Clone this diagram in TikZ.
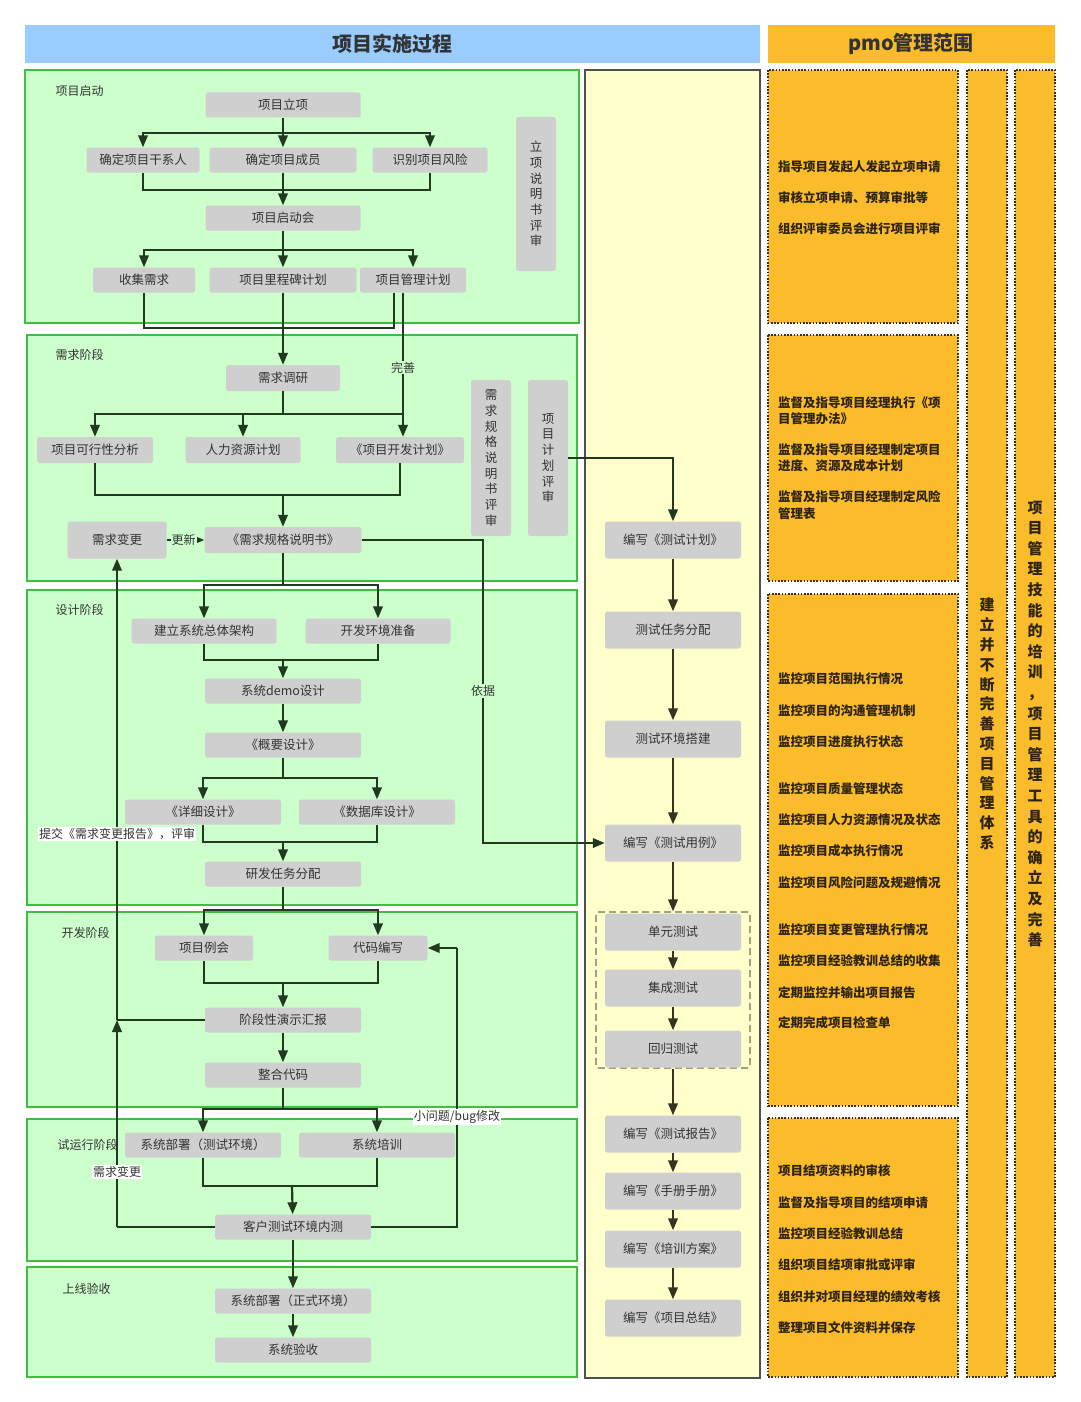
\documentclass[tikz,border=0pt]{standalone}
\usepackage{fontspec}
\setmainfont{Noto Sans CJK SC}
\usetikzlibrary{arrows.meta}
\definecolor{hblue}{HTML}{99CCFF}
\definecolor{pmo}{HTML}{FBBC2C}
\definecolor{pmodot}{HTML}{3A3020}
\definecolor{pmotext}{HTML}{2E2410}
\definecolor{phasefill}{HTML}{CCFFCC}
\definecolor{phaseline}{HTML}{3FBF3F}
\definecolor{testfill}{HTML}{FFFFCC}
\definecolor{testline}{HTML}{505050}
\definecolor{nodegray}{HTML}{CFCFCF}
\definecolor{txtdark}{HTML}{333333}
\definecolor{lnk}{HTML}{203A20}
\definecolor{tlnk}{HTML}{33331F}
\definecolor{dashgray}{HTML}{707060}
\newcommand\myfs[2]{\fontsize{#1}{#2}\selectfont}
\tikzset{
  gbox/.style={fill=nodegray, rounded corners=2.5pt, inner sep=0pt, minimum height=25pt, text=txtdark, font=\myfs{12.5}{15}},
  tbox/.style={gbox, minimum width=136pt, minimum height=37pt},
  vbox/.style={fill=nodegray, rounded corners=2.5pt, inner sep=0pt, minimum width=40pt, align=center, text=txtdark, font=\myfs{12.5}{15.7}},
  phasebox/.style={fill=phasefill, draw=phaseline, line width=1.8pt},
  conn/.style={draw=lnk, line width=2.2pt},
  arr/.style={conn, -{Triangle[length=12pt,width=9.5pt]}},
  tconn/.style={draw=tlnk, line width=2.2pt},
  tarr/.style={tconn, -{Triangle[length=12pt,width=9.5pt]}},
  lbl/.style={fill=white, inner sep=1pt, text=txtdark, font=\myfs{12}{14}},
  glbl/.style={lbl, fill=phasefill},
  phlbl/.style={anchor=west, text=txtdark, font=\myfs{12}{14}},
  pmobox/.style={fill=pmo, draw=pmodot, line width=1.6pt, dash pattern=on 1.6pt off 1.6pt},
  pmotxt/.style={anchor=west, inner sep=0pt, text=pmotext, font=\bfseries\myfs{12.5}{16.5}, align=left},
  pmovert/.style={text=pmotext, align=center, inner sep=0pt},
}
\begin{document}
\begin{tikzpicture}[x=1pt,y=-1pt]
\useasboundingbox (0,0) rectangle (1080,1402);
\fill[white] (0,0) rectangle (1080,1402);
% headers
\fill[hblue] (25,25) rectangle (760,63);
\fill[pmo] (768,25) rectangle (1055,63);
\node[text=txtdark, font=\bfseries\myfs{20}{24}] (title1) at (392,44) {项目实施过程};
\node[text=txtdark, font=\bfseries\myfs{20}{24}] (title2) at (911,44) {pmo管理范围};
% phase boxes
\draw[phasebox] (25,70) rectangle (579,323);
\draw[phasebox] (27,335) rectangle (577,581);
\draw[phasebox] (27,590) rectangle (577,905);
\draw[phasebox] (27,912) rectangle (577,1107);
\draw[phasebox] (27,1119) rectangle (577,1261);
\draw[phasebox] (27,1267) rectangle (577,1377);
% test column
\draw[fill=testfill, draw=testline, line width=1.5pt] (585,70) rectangle (760,1378);
% pmo boxes
\draw[pmobox] (768,70) rectangle (958,323);
\draw[pmobox] (768,335) rectangle (958,581);
\draw[pmobox] (768,594) rectangle (958,1106);
\draw[pmobox] (768,1118) rectangle (958,1377);
\draw[pmobox] (967,70) rectangle (1007,1377);
\draw[pmobox] (1015,70) rectangle (1055,1377);
% phase labels
\node[phlbl] (ph1) at (52,91) {项目启动};
\node[phlbl] (ph2) at (52,355) {需求阶段};
\node[phlbl] (ph3) at (52,610) {设计阶段};
\node[phlbl] (ph4) at (58,933) {开发阶段};
\node[phlbl] (ph5) at (54,1145) {试运行阶段};
\node[phlbl] (ph6) at (59,1289) {上线验收};
% phase 1 nodes
\node[gbox, minimum width=155pt] (n11) at (283,105) {项目立项};
\node[gbox, minimum width=113pt] (n12a) at (143,160) {确定项目干系人};
\node[gbox, minimum width=147pt] (n12b) at (283,160) {确定项目成员};
\node[gbox, minimum width=115pt] (n12c) at (430,160) {识别项目风险};
\node[gbox, minimum width=155pt] (n13) at (283,218) {项目启动会};
\node[gbox, minimum width=102pt] (n14a) at (144,280) {收集需求};
\node[gbox, minimum width=147pt] (n14b) at (283,280) {项目里程碑计划};
\node[gbox, minimum width=106pt] (n14c) at (413,280) {项目管理计划};
\node[vbox, minimum height=154pt] (v1) at (536,194) {立\\项\\说\\明\\书\\评\\审};
% phase 2 nodes
\node[gbox, minimum width=114pt, minimum height=26pt] (n21) at (283,378) {需求调研};
\node[gbox, minimum width=116pt, minimum height=26pt] (n22a) at (95,450) {项目可行性分析};
\node[gbox, minimum width=115pt, minimum height=26pt] (n22b) at (243,450) {人力资源计划};
\node[gbox, minimum width=128pt, minimum height=26pt] (n22c) at (400,450) {《项目开发计划》};
\node[gbox, minimum width=157pt, minimum height=26pt] (n23) at (283,540) {《需求规格说明书》};
\node[gbox, minimum width=99pt, minimum height=37pt] (n24) at (117,540) {需求变更};
\node[vbox, minimum height=156pt] (v2) at (491,458) {需\\求\\规\\格\\说\\明\\书\\评\\审};
\node[vbox, minimum height=156pt] (v3) at (548,458) {项\\目\\计\\划\\评\\审};
% phase 3 nodes
\node[gbox, minimum width=145pt] (n31a) at (204,631) {建立系统总体架构};
\node[gbox, minimum width=145pt] (n31b) at (378,631) {开发环境准备};
\node[gbox, minimum width=156pt] (n32) at (283,691) {系统demo设计};
\node[gbox, minimum width=156pt] (n33) at (283,745) {《概要设计》};
\node[gbox, minimum width=156pt] (n34a) at (203,812) {《详细设计》};
\node[gbox, minimum width=156pt] (n34b) at (377,812) {《数据库设计》};
\node[gbox, minimum width=156pt] (n35) at (283,874) {研发任务分配};
% phase 4 nodes
\node[gbox, minimum width=98pt] (n41a) at (204,948) {项目例会};
\node[gbox, minimum width=99pt] (n41b) at (378,948) {代码编写};
\node[gbox, minimum width=156pt] (n42) at (283,1020) {阶段性演示汇报};
\node[gbox, minimum width=156pt] (n43) at (283,1075) {整合代码};
% phase 5 nodes
\node[gbox, minimum width=156pt] (n51a) at (203,1145) {系统部署（测试环境）};
\node[gbox, minimum width=156pt] (n51b) at (377,1145) {系统培训};
\node[gbox, minimum width=156pt] (n52) at (293,1227) {客户测试环境内测};
% phase 6 nodes
\node[gbox, minimum width=156pt] (n61) at (293,1301) {系统部署（正式环境）};
\node[gbox, minimum width=156pt] (n62) at (293,1350) {系统验收};
% test column nodes
\node[draw=dashgray, line width=1.3pt, dash pattern=on 7pt off 4pt, rounded corners=2pt, minimum width=154pt, minimum height=156pt, inner sep=0pt] (dbox) at (673,990) {};
\node[tbox] (t1) at (673,540) {编写《测试计划》};
\node[tbox] (t2) at (673,630) {测试任务分配};
\node[tbox] (t3) at (673,739) {测试环境搭建};
\node[tbox] (t4) at (673,843) {编写《测试用例》};
\node[tbox] (t5) at (673,932) {单元测试};
\node[tbox] (t6) at (673,988) {集成测试};
\node[tbox] (t7) at (673,1049) {回归测试};
\node[tbox] (t8) at (673,1134) {编写《测试报告》};
\node[tbox] (t9) at (673,1191) {编写《手册手册》};
\node[tbox] (t10) at (673,1249) {编写《培训方案》};
\node[tbox] (t11) at (673,1318) {编写《项目总结》};
% junction coordinates
\coordinate (f1) at (283,133);
\coordinate (j1) at (283,190);
\coordinate (f1b) at (283,250);
\coordinate (j1c) at (394,328);
\coordinate (f2) at (283,414);
\coordinate (k2) at (403,414);
\coordinate (j2) at (283,495);
\coordinate (f3) at (283,585);
\coordinate (j3) at (283,660);
\coordinate (f3b) at (283,778);
\coordinate (j3b) at (283,842);
\coordinate (f4) at (283,910);
\coordinate (j4) at (283,983);
\coordinate (f5) at (283,1109);
\coordinate (j5) at (292,1186);
\coordinate (yj) at (483,843);
\coordinate (rc1) at (117,1227);
\coordinate (rc2) at (117,1020);
\coordinate (bc1) at (457,1227);
\coordinate (bc2) at (457,948);
% phase 1 connectors
\draw[conn] (n11) -- (f1);
\draw[arr] (f1) -| (n12a);
\draw[arr] (f1) -- (n12b);
\draw[arr] (f1) -| (n12c);
\draw[conn] (n12a) |- (j1);
\draw[conn] (n12c) |- (j1);
\draw[arr] (n12b) -- (n13);
\draw[conn] (n13) -- (f1b);
\draw[arr] (f1b) -| (n14a);
\draw[arr] (f1b) -- (n14b);
\draw[arr] (f1b) -| (n14c);
\draw[conn] (n14a) |- (j1c) -- (n14c.south -| j1c);
% phase 2 connectors
\draw[arr] (n14b) -- (n21);
\draw[conn] (n21) -- (f2);
\draw[arr] (f2) -| (n22a);
\draw[arr] (f2) -| (n22b);
\draw[conn] (f2) -- (k2);
\draw[arr] (n14c.south -| k2) -- node[glbl, pos=0.52] (lws) {完善} (n22c.north -| k2);
\draw[conn] (n22a) |- (j2);
\draw[conn] (n22c) |- (j2);
\draw[arr] (j2) -- (n23);
\draw[arr] (n24) -- node[glbl, pos=0.45] (lgx) {更新} (n23);
\draw[arr] (v3) -| (t1);
\draw[arr] (n23) -| (yj) -- (t4);
\node[glbl] (lyj) at (483,691) {依据};
% phase 3 connectors
\draw[conn] (n23) -- (f3);
\draw[arr] (f3) -| (n31a);
\draw[arr] (f3) -| (n31b);
\draw[conn] (n31a) |- (j3);
\draw[conn] (n31b) |- (j3);
\draw[arr] (j3) -- (n32);
\draw[arr] (n32) -- (n33);
\draw[conn] (n33) -- (f3b);
\draw[arr] (f3b) -| (n34a);
\draw[arr] (f3b) -| (n34b);
\draw[conn] (n34a) |- (j3b);
\draw[conn] (n34b) |- (j3b);
\draw[arr] (j3b) -- (n35);
% phase 4 connectors
\draw[conn] (n35) -- (f4);
\draw[arr] (f4) -| (n41a);
\draw[arr] (f4) -| (n41b);
\draw[conn] (n41a) |- (j4);
\draw[conn] (n41b) |- (j4);
\draw[arr] (j4) -- (n42);
\draw[arr] (n42) -- (n43);
\draw[conn] (n43) -- (f5);
% phase 5 connectors
\draw[arr] (f5) -| (n51a);
\draw[arr] (f5) -| (n51b);
\draw[conn] (n51a) |- (j5);
\draw[conn] (n51b) |- (j5);
\draw[arr] (j5) -- (n52);
\draw[arr] (n52) -- (n61);
\draw[arr] (n61) -- (n62);
% feedback loops
\draw[conn] (n52) -- (rc1);
\draw[arr] (rc1) -- (rc2);
\draw[conn] (n42) -- (rc2);
\draw[arr] (rc2) -- (n24);
\draw[conn] (n52) -- (bc1) -- (bc2);
\draw[arr] (bc2) -- (n41b);
\node[lbl] (lreq) at (117,834) {提交《需求变更报告》，评审};
\node[lbl] (lchg) at (117,1172) {需求变更};
\node[lbl] (lbug) at (457,1117) {小问题/bug修改};
% test connectors
\draw[tarr] (t1) -- (t2);
\draw[tarr] (t2) -- (t3);
\draw[tarr] (t3) -- (t4);
\draw[tarr] (t4) -- (dbox);
\draw[tarr] (t5) -- (t6);
\draw[tarr] (t6) -- (t7);
\draw[tarr] (dbox) -- (t8);
\draw[tarr] (t8) -- (t9);
\draw[tarr] (t9) -- (t10);
\draw[tarr] (t10) -- (t11);
% pmo texts
\node[pmotxt] (p11) at (778,167) {指导项目发起人发起立项申请};
\node[pmotxt] (p12) at (778,198) {审核立项申请、预算审批等};
\node[pmotxt] (p13) at (778,229) {组织评审委员会进行项目评审};
\node[pmotxt] (p21) at (778,411) {监督及指导项目经理执行《项\\目管理办法》};
\node[pmotxt] (p22) at (778,458) {监督及指导项目经理制定项目\\进度、资源及成本计划};
\node[pmotxt] (p23) at (778,505) {监督及指导项目经理制定风险\\管理表};
\node[pmotxt] (p31) at (778,679) {监控项目范围执行情况};
\node[pmotxt] (p32) at (778,711) {监控项目的沟通管理机制};
\node[pmotxt] (p33) at (778,742) {监控项目进度执行状态};
\node[pmotxt] (p34) at (778,789) {监控项目质量管理状态};
\node[pmotxt] (p35) at (778,820) {监控项目人力资源情况及状态};
\node[pmotxt] (p36) at (778,851) {监控项目成本执行情况};
\node[pmotxt] (p37) at (778,883) {监控项目风险问题及规避情况};
\node[pmotxt] (p38) at (778,930) {监控项目变更管理执行情况};
\node[pmotxt] (p39) at (778,961) {监控项目经验教训总结的收集};
\node[pmotxt] (p310) at (778,993) {定期监控并输出项目报告};
\node[pmotxt] (p311) at (778,1023) {定期完成项目检查单};
\node[pmotxt] (p41) at (778,1171) {项目结项资料的审核};
\node[pmotxt] (p42) at (778,1203) {监督及指导项目的结项申请};
\node[pmotxt] (p43) at (778,1234) {监控项目经验教训总结};
\node[pmotxt] (p44) at (778,1265) {组织项目结项审批或评审};
\node[pmotxt] (p45) at (778,1297) {组织并对项目经理的绩效考核};
\node[pmotxt] (p46) at (778,1328) {整理项目文件资料并保存};
\node[pmovert, font=\bfseries\myfs{15}{19.8}] (pc1) at (987,724) {建\\立\\并\\不\\断\\完\\善\\项\\目\\管\\理\\体\\系};
\node[pmovert, font=\bfseries\myfs{15}{20.6}] (pc2) at (1035,724) {项\\目\\管\\理\\技\\能\\的\\培\\训\\，\\项\\目\\管\\理\\工\\具\\的\\确\\立\\及\\完\\善};
\end{tikzpicture}
\end{document}
